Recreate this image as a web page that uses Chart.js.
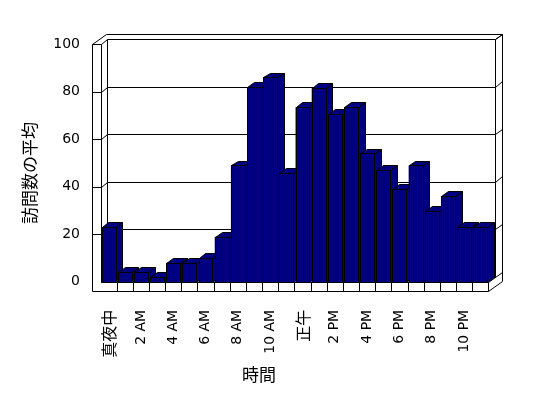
<!DOCTYPE html>
<html lang="ja">
<head>
    <meta charset="UTF-8">
    <title>訪問数の平均</title>
    <style>
        html, body { margin: 0; padding: 0; background: #fff; }
        #wrap { width: 548px; height: 398px; }
    </style>
</head>
<body>
    <div id="wrap"><canvas id="chart" width="548" height="398"></canvas></div>
    <script src="https://cdn.jsdelivr.net/npm/chart.js"></script>
    <script>
    // hour categories (only every other one is labelled on the axis)
    const hours = ['真夜中', '1 AM', '2 AM', '3 AM', '4 AM', '5 AM', '6 AM', '7 AM', '8 AM', '9 AM', '10 AM', '11 AM',
        '正午', '1 PM', '2 PM', '3 PM', '4 PM', '5 PM', '6 PM', '7 PM', '8 PM', '9 PM', '10 PM', '11 PM'];
    // average visits per hour
    const visits = [23, 4, 4, 2, 8, 8, 10, 19, 49, 82, 86, 46, 73.5, 81.5, 70.5, 73.5, 54, 47, 39, 49, 30, 36, 23, 23];
    const yTicks = [0, 20, 40, 60, 80, 100];
    const yTitle = '訪問数の平均';
    const xTitle = '時間';

    const NAVY = '#000080';
    const D1 = { x: 6.8, y: -4.8 };   // depth of bars / back wall face
    const D2 = { x: 13.4, y: -10.3 }; // outer depth of wall slabs
    const WALL = 8.2;                 // left wall thickness
    const FLOOR = 9.2;                // floor thickness

    const s = v => Math.round(v) + 0.5;
    function line(ctx, x1, y1, x2, y2) {
        ctx.beginPath();
        ctx.moveTo(s(x1), s(y1));
        ctx.lineTo(s(x2), s(y2));
        ctx.stroke();
    }
    function poly(ctx, pts) {
        ctx.beginPath();
        pts.forEach((p, i) => i ? ctx.lineTo(s(p[0]), s(p[1])) : ctx.moveTo(s(p[0]), s(p[1])));
        ctx.closePath();
        ctx.fill();
        ctx.stroke();
    }

    // draws the 3D box, the bar sides/tops and the axis titles
    const box3d = {
        id: 'box3d',
        beforeDatasetsDraw(chart) {
            const { ctx, chartArea: a, scales: { y } } = chart;
            const L = a.left, R = a.right, T = a.top, B = a.bottom;
            const X0 = L - WALL, Yb = B + FLOOR;
            ctx.save();
            ctx.strokeStyle = '#000';
            ctx.lineWidth = 1;
            // gridlines on back wall and left wall
            yTicks.forEach(v => {
                const yf = y.getPixelForValue(v), yb = yf + D1.y;
                line(ctx, L + D1.x, yb, R + D1.x, yb);
                line(ctx, R + D1.x, yb, R + D2.x, yb + D2.y - D1.y);
                line(ctx, L, yf, L + D1.x, yb);
                if (v !== yTicks[0]) line(ctx, X0, yf, L, yf);
            });
            // back wall edges
            line(ctx, L + D1.x, T + D1.y, L + D1.x, B + D1.y);
            line(ctx, R + D1.x, T + D1.y, R + D1.x, B + D1.y);
            // top of the walls
            line(ctx, X0 + D2.x, T + D2.y, R + D2.x, T + D2.y);
            line(ctx, X0, T, X0 + D2.x, T + D2.y);
            line(ctx, R + D1.x, T + D1.y, R + D2.x, T + D2.y);
            line(ctx, R + D2.x, T + D2.y, R + D2.x, Yb + D2.y);
            // right end of floor
            line(ctx, R, Yb, R + D2.x, Yb + D2.y);
            line(ctx, R, B, R + D1.x, B + D1.y);
            // left wall front face
            line(ctx, X0, T, X0, Yb);
            line(ctx, L, T, L, B);
            // floor front face with category cells
            line(ctx, L, B, R, B);
            line(ctx, X0, Yb, R, Yb);
            line(ctx, R, B, R, Yb);
            const n = hours.length;
            for (let i = 1; i < n; i++) {
                const xb = L + i * (R - L) / n;
                line(ctx, xb, B, xb, Yb);
            }
            ctx.restore();
        },
        afterDatasetsDraw(chart) {
            const { ctx } = chart;
            const meta = chart.getDatasetMeta(0);
            ctx.save();
            ctx.fillStyle = NAVY;
            ctx.strokeStyle = '#000';
            ctx.lineWidth = 1;
            meta.data.forEach(bar => {
                const { x, y, base, width } = bar.getProps(['x', 'y', 'base', 'width'], true);
                const l = x - width / 2, r = x + width / 2;
                poly(ctx, [[r, y], [r + D1.x, y + D1.y], [r + D1.x, base + D1.y], [r, base]]);
                poly(ctx, [[l, y], [l + D1.x, y + D1.y], [r + D1.x, y + D1.y], [r, y]]);
                poly(ctx, [[l, y], [r, y], [r, base], [l, base]]);
            });
            ctx.restore();
        },
        afterDraw(chart) {
            const { ctx } = chart;
            ctx.save();
            ctx.fillStyle = '#000';
            ctx.font = '17px "Noto Sans CJK JP"';
            ctx.textAlign = 'center';
            ctx.textBaseline = 'middle';
            ctx.fillText(xTitle, 259, 375);
            ctx.translate(30, 173);
            ctx.rotate(-Math.PI / 2);
            ctx.fillText(yTitle, 0, 0);
            ctx.restore();
        }
    };

    const isCJK = t => /[^\x00-\x7F]/.test(t || '');

    new Chart(document.getElementById('chart'), {
        type: 'bar',
        data: {
            labels: hours,
            datasets: [{
                data: visits,
                backgroundColor: NAVY,
                borderColor: '#000',
                borderWidth: 0,
                barPercentage: 0.86,
                categoryPercentage: 1
            }]
        },
        options: {
            responsive: false,
            animation: false,
            devicePixelRatio: 1,
            layout: { padding: { left: 0, right: 59.7, top: 44.2, bottom: 0 } },
            plugins: { legend: { display: false }, tooltip: { enabled: false } },
            scales: {
                x: {
                    grid: { display: false },
                    border: { display: false },
                    afterFit(scale) { scale.height = 398 - 281.8; },
                    ticks: {
                        autoSkip: false,
                        minRotation: 90,
                        maxRotation: 90,
                        padding: 20,
                        color: '#000',
                        callback: (v, i) => i % 2 === 0 ? hours[i] : '',
                        font: ctx => isCJK(ctx.tick && ctx.tick.label)
                            ? { family: '"Noto Sans CJK JP"', size: 16 }
                            : { family: '"DejaVu Sans"', size: 14 }
                    }
                },
                y: {
                    min: yTicks[0],
                    max: yTicks[yTicks.length - 1],
                    grid: { display: false, drawTicks: false },
                    border: { display: false },
                    afterFit(scale) { scale.width = 100.5; },
                    ticks: {
                        stepSize: yTicks[1] - yTicks[0],
                        padding: 20.5,
                        color: '#000',
                        font: { family: '"DejaVu Sans"', size: 14 }
                    }
                }
            }
        },
        plugins: [box3d]
    });
    </script>
</body>
</html>
